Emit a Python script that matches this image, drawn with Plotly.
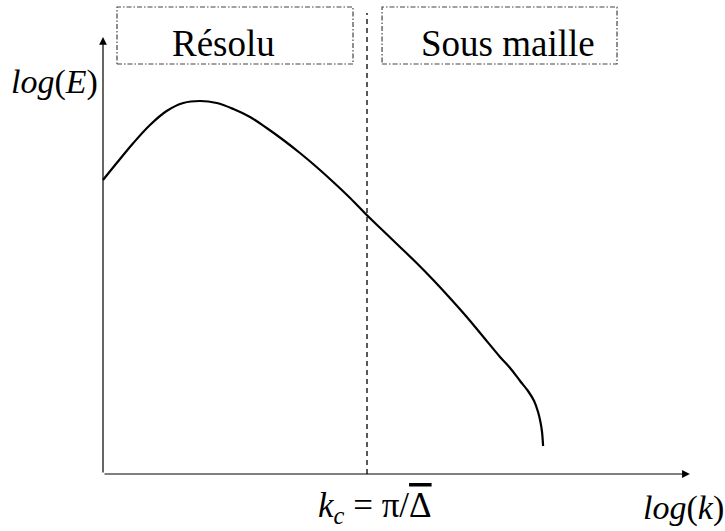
import plotly.graph_objects as go

# Schematic energy spectrum (arbitrary log units); cutoff k_c at log_k = 1
log_k = [0.0, 0.052, 0.115, 0.178, 0.241, 0.304, 0.367, 0.431, 0.494, 0.557,
         0.620, 0.683, 0.746, 0.809, 0.872, 0.936, 0.999, 1.062, 1.125, 1.188,
         1.251, 1.314, 1.378, 1.441, 1.504, 1.542, 1.580, 1.610, 1.633, 1.648,
         1.657, 1.663, 1.667]
log_E = [2.94, 3.11, 3.31, 3.49, 3.63, 3.71, 3.73, 3.71, 3.65, 3.57,
         3.46, 3.34, 3.21, 3.07, 2.92, 2.76, 2.59, 2.43, 2.27, 2.11,
         1.94, 1.76, 1.57, 1.37, 1.17, 1.06, 0.93, 0.83, 0.73, 0.62,
         0.52, 0.42, 0.28]
k_cut = 1.0
x_axis_end = 2.223
y_axis_end = 4.37
cut_top = 4.61
regions = ["Résolu", "Sous maille"]
region_box_x = [(0.053, 0.947), (1.057, 1.947)]
region_label_x = [0.458, 1.534]
region_y = (4.10, 4.67)

SERIF = "Liberation Serif, Times New Roman, serif"

fig = go.Figure()
fig.add_trace(go.Scatter(x=log_k, y=log_E, mode="lines",
                         line=dict(color="black", width=2.2, shape="spline", smoothing=1.0),
                         hoverinfo="skip", showlegend=False))

shapes = []
shapes.append(dict(type="line", xref="x", yref="y", x0=k_cut, x1=k_cut, y0=0, y1=cut_top,
                   line=dict(color="black", width=1.3, dash="5px,4px")))
for (x0, x1) in region_box_x:
    shapes.append(dict(type="rect", xref="x", yref="y", x0=x0, x1=x1,
                       y0=region_y[0], y1=region_y[1],
                       line=dict(color="#444444", width=1.2, dash="5px,2px,1.5px,2px")))

annotations = []
for tip in [(x_axis_end, 0), (0, y_axis_end)]:
    annotations.append(dict(x=tip[0], y=tip[1], ax=0, ay=0, xref="x", yref="y",
                            axref="x", ayref="y", text="", showarrow=True, arrowhead=2,
                            arrowsize=1.3, arrowwidth=1.2, arrowcolor="black",
                            standoff=0, startstandoff=0))
for name, lx in zip(regions, region_label_x):
    annotations.append(dict(x=lx, y=4.31, xref="x", yref="y", text=name,
                            showarrow=False, font=dict(family=SERIF, size=37, color="black")))
annotations.append(dict(x=-0.182, y=3.92, xref="x", yref="y", text="<i>log</i>(<i>E</i>)",
                        showarrow=False, font=dict(family=SERIF, size=34, color="black")))
annotations.append(dict(x=2.197, y=-0.34, xref="x", yref="y", text="<i>log</i>(<i>k</i>)",
                        showarrow=False, font=dict(family=SERIF, size=34, color="black")))
annotations.append(dict(x=1.03, y=-0.33, xref="x", yref="y",
                        text="<i>k</i><sub><i>c</i></sub> = π/<span style='text-decoration:overline'>Δ</span>",
                        showarrow=False, font=dict(family=SERIF, size=35, color="black")))

fig.update_layout(
    width=725, height=531,
    margin=dict(l=0, r=0, t=0, b=0),
    paper_bgcolor="white", plot_bgcolor="white",
    xaxis=dict(range=[-103 / 264, 622 / 264], visible=False, fixedrange=True),
    yaxis=dict(range=[-0.57, 4.74], visible=False, fixedrange=True),
    shapes=shapes, annotations=annotations, showlegend=False,
)

fig.write_html("out.html", config={"displayModeBar": False},
               post_script="document.body.style.margin='0';document.body.style.overflow='hidden';")
